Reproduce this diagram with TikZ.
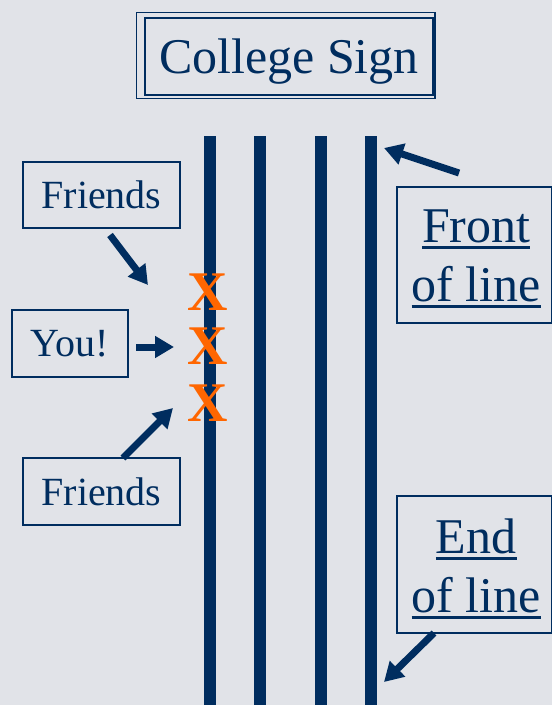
\documentclass[tikz,border=0pt]{standalone}
\usepackage{fontspec}
\setmainfont{Liberation Serif}
\usetikzlibrary{arrows.meta}
\definecolor{navy}{RGB}{0,45,95}
\definecolor{xorange}{RGB}{255,102,0}
\definecolor{bgc}{RGB}{225,227,232}
\newcommand\myul[1]{\leavevmode\vtop{\hbox{#1}\kern3pt\hrule height 3pt}}
\tikzset{
  box/.style={draw=navy, line width=1.5pt, text=navy, inner sep=0pt},
  lbl/.style={text=navy, inner sep=0pt, align=center},
  small/.style={font=\fontsize{40}{46}\selectfont},
  big/.style={font=\fontsize{50}{59}\selectfont},
  xmark/.style={text=xorange, inner sep=0pt, font=\fontsize{56}{60}\selectfont\bfseries},
  vline/.style={draw=navy, line width=12pt},
  arr/.style={draw=navy, line width=7pt, -{Triangle[length=19pt,width=21pt]}}
}
\begin{document}
\begin{tikzpicture}[x=1pt,y=-1pt]
\useasboundingbox[fill=bgc] (0,0) rectangle (552,705);
% vertical lines
\draw[vline] (210,136) -- (210,705);
\draw[vline] (260,136) -- (260,705);
\draw[vline] (321,136) -- (321,705);
\draw[vline] (371,136) -- (371,705);
% college sign
\node[box, big, text depth=0pt, minimum width=288, minimum height=77] (sign) at (289,56.5) {College Sign};
\draw[navy, line width=1.5pt] (136.5,12.5) rectangle (435,98.5);
% friends / you
\node[box, small, text depth=0pt, minimum width=157, minimum height=66] (f1) at (101.5,195) {Friends};
\node[box, small, text depth=0pt, minimum width=116, minimum height=67] (you) at (70,343.5) {You!};
\node[box, small, text depth=0pt, minimum width=157, minimum height=67] (f2) at (101.5,491.5) {Friends};
% X marks
\node[xmark] (x1) at (208,292) {X};
\node[xmark] (x2) at (208,346) {X};
\node[xmark] (x3) at (208,403) {X};
% front / end boxes
\node[box, minimum width=155, minimum height=136, anchor=north west] (front) at (396,186) {};
\node[lbl, big] (fronttxt) at ([xshift=2pt,yshift=-4pt]front.center) {\myul{Front}\\\myul{of line}};
\node[box, minimum width=155, minimum height=137, anchor=north west] (end) at (396,495) {};
\node[lbl, big] (endtxt) at ([xshift=2pt,yshift=-5pt]end.center) {\myul{End}\\\myul{of line}};
% arrows
\coordinate (f1t) at (110,235);
\coordinate (f1h) at (148,285);
\coordinate (yt) at (136,347);
\coordinate (yh) at (174,347);
\coordinate (f2t) at (123,458);
\coordinate (f2h) at (173,408);
\coordinate (frt) at (459,173);
\coordinate (frh) at (384,148);
\coordinate (ent) at (434,633);
\coordinate (enh) at (384,682);
\draw[arr] (f1t) -- (f1h);
\draw[arr] (yt) -- (yh);
\draw[arr] (f2t) -- (f2h);
\draw[arr] (frt) -- (frh);
\draw[arr] (ent) -- (enh);
\end{tikzpicture}
\end{document}
